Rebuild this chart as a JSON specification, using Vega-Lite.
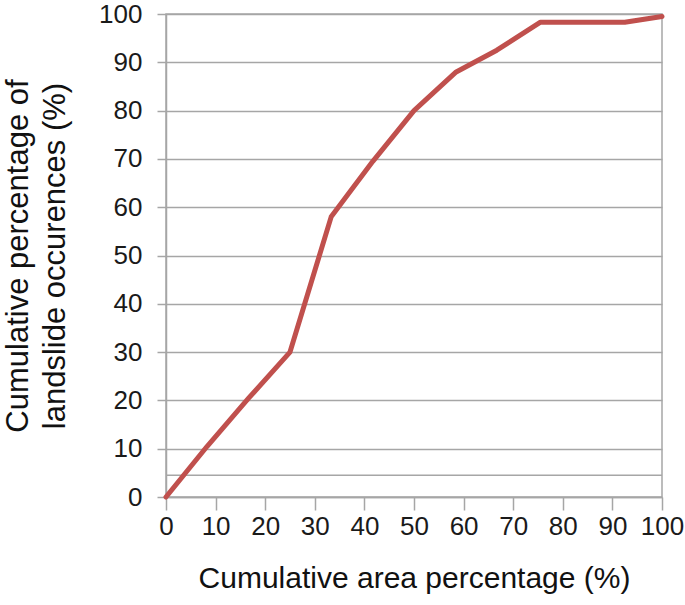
{
  "$schema": "https://vega.github.io/schema/vega-lite/v6.json",
  "width": 496,
  "height": 483,
  "autosize": {"type": "none"},
  "padding": {"left": 166, "top": 14, "right": 23, "bottom": 108},
  "background": "white",
  "config": {
    "view": {"stroke": "#a6a6a6", "strokeWidth": 1.5},
    "axis": {
      "gridColor": "#a6a6a6",
      "gridWidth": 1.5,
      "gridOpacity": 1,
      "domainColor": "#a6a6a6",
      "domainWidth": 1.5,
      "tickColor": "#a6a6a6",
      "tickWidth": 1.5,
      "labelFont": "Liberation Sans",
      "labelFontSize": 26,
      "labelColor": "#1a1a1a",
      "titleFont": "Liberation Sans",
      "titleFontSize": 30,
      "titleFontWeight": "normal",
      "titleColor": "#111111"
    }
  },
  "datasets": {
    "curve": [
      {"area": 0, "occ": 0},
      {"area": 8.3, "occ": 10.5},
      {"area": 16.7, "occ": 20.5},
      {"area": 25, "occ": 30},
      {"area": 33.3, "occ": 58},
      {"area": 41.7, "occ": 69.5},
      {"area": 50, "occ": 80},
      {"area": 58.5, "occ": 88},
      {"area": 66.7, "occ": 92.5},
      {"area": 75.5, "occ": 98.3},
      {"area": 92.5, "occ": 98.3},
      {"area": 100, "occ": 99.5}
    ],
    "extra": [{"occ": 4.5}]
  },
  "layer": [
    {
      "data": {"name": "extra"},
      "mark": {"type": "rule", "color": "#a6a6a6", "strokeWidth": 1.5},
      "encoding": {
        "y": {"field": "occ", "type": "quantitative", "scale": {"domain": [0, 100]}}
      }
    },
    {
      "data": {"name": "curve"},
      "mark": {"type": "line", "color": "#c0504d", "strokeWidth": 5, "strokeJoin": "round", "strokeCap": "round"},
      "encoding": {
        "x": {
          "field": "area",
          "type": "quantitative",
          "scale": {"domain": [0, 100], "nice": false},
          "axis": {
            "title": "Cumulative area percentage (%)",
            "values": [0, 10, 20, 30, 40, 50, 60, 70, 80, 90, 100],
            "grid": false,
            "tickSize": 13,
            "labelPadding": 3,
            "titlePadding": 24,
            "labelFlush": false
          }
        },
        "y": {
          "field": "occ",
          "type": "quantitative",
          "scale": {"domain": [0, 100], "nice": false},
          "axis": {
            "title": ["Cumulative percentage of", "landslide occurences (%)"],
            "titleFontSize": 31,
            "titleLineHeight": 37,
            "values": [0, 10, 20, 30, 40, 50, 60, 70, 80, 90, 100],
            "grid": true,
            "tickSize": 9,
            "labelPadding": 15,
            "titlePadding": 27,
            "labelFlush": false
          }
        }
      }
    }
  ]
}
